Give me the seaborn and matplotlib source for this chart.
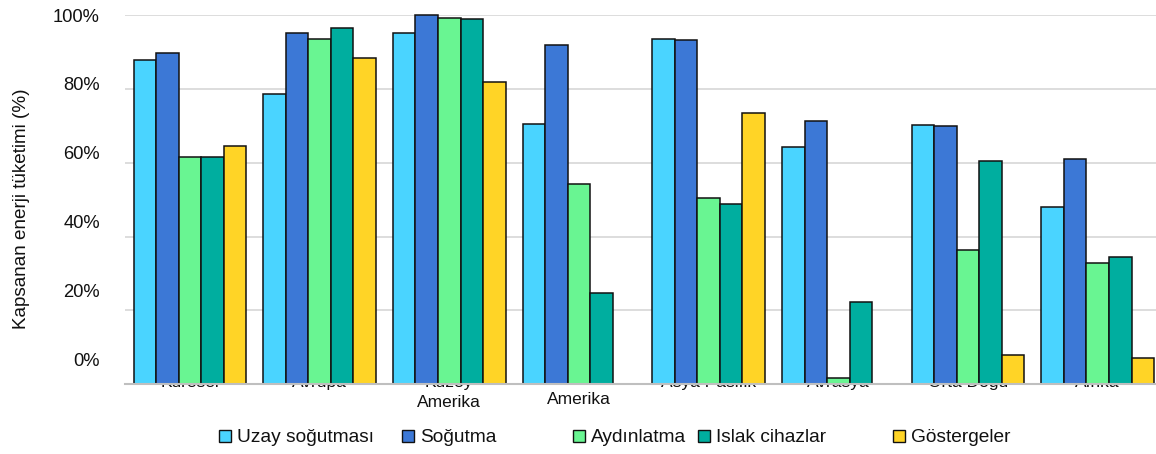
import numpy as np
import pandas as pd
import matplotlib
matplotlib.use("Agg")
import matplotlib.pyplot as plt
from matplotlib.patches import Patch
import seaborn as sns

# Regions (x categories) and their axis labels
regions = ["Küresel", "Avrupa", "Kuzey Amerika", "Latin Amerika",
           "Asya Pasifik", "Avrasya", "Orta Doğu", "Afrika"]
region_labels = ["Küresel", "Avrupa", "Kuzey\nAmerika", "Latin\nAmerika",
                 "Asya Pasifik", "Avrasya", "Orta Doğu", "Afrika"]

# End uses (series)
end_uses = ["Uzay soğutması", "Soğutma", "Aydınlatma", "Islak cihazlar", "Göstergeler"]

# Share of energy consumption covered (%), one list per end use; None = no data
space_cooling = [87.8, 78.7, 95.1, 70.6, 93.6, 64.3, 70.3, 47.9]
refrigeration = [89.7, 95.2, 100.0, 91.9, 93.2, 71.2, 69.9, 60.9]
lighting      = [61.5, 93.4, 99.3, 54.3, 50.4, 1.8, 36.3, 32.9]
wet_appliances = [61.6, 96.4, 98.9, 24.6, 48.9, 22.4, 60.5, 34.5]
displays      = [64.4, 88.4, 81.8, None, 73.5, None, 7.9, 7.2]

y_ticks = [0, 20, 40, 60, 80, 100]
y_tick_labels = ["0%", "20%", "40%", "60%", "80%", "100%"]

colors = ["#4AD4FF", "#3C78D6", "#69F592", "#00AE9F", "#FFD426"]

series = [space_cooling, refrigeration, lighting, wet_appliances, displays]
rows = []
for use, vals in zip(end_uses, series):
    for reg, v in zip(regions, vals):
        rows.append({"Bölge": reg, "Kullanım": use, "Değer": v})
df = pd.DataFrame(rows).dropna()

sns.set_theme(style="white")
plt.rcParams["font.family"] = ["Liberation Sans", "DejaVu Sans"]

fig = plt.figure(figsize=(11.56, 4.54), dpi=100)
ax = fig.add_axes([125 / 1156, (454 - 384.3) / 454, 1037.6 / 1156, 369.3 / 454])

sns.barplot(data=df, x="Bölge", y="Değer", hue="Kullanım",
            order=regions, hue_order=end_uses, palette=colors, saturation=1,
            width=0.868, gap=0, edgecolor="#111111", linewidth=1.1,
            legend=False, errorbar=None, ax=ax, zorder=2)
for p in ax.patches:
    p.set_clip_on(False)

ax.set_ylim(0, 100)
ax.set_xlim(-0.5, len(regions) - 0.5)
ax.set_axisbelow(True)

# Gridlines on the major ticks, labels on slightly shifted minor ticks
ax.yaxis.remove_overlapping_locs = False
ax.set_yticks(y_ticks)
ax.set_yticklabels([""] * len(y_ticks))
ax.yaxis.grid(True, color="#DADADA", linewidth=1.3)
ax.set_yticks([round(100 - 0.934 * (100 - v), 2) for v in y_ticks],
              y_tick_labels, minor=True)
ax.tick_params(axis="y", which="both", length=0, pad=18, labelsize=13.2,
               labelcolor="#111111")
ax.set_xticks([])
ax.set_xlabel("")
ax.set_ylabel("Kapsanan enerji tüketimi (%)", fontsize=13.6, color="#111111")
ax.yaxis.set_label_coords(-95 / 1037.6, 0.475)

for s in ["top", "right", "left"]:
    ax.spines[s].set_visible(False)
ax.spines["bottom"].set_color("#BFBFBF")
ax.spines["bottom"].set_linewidth(1.5)
ax.spines["bottom"].set_zorder(3)

# Region labels start just above the baseline, behind the bars
for i, lab in enumerate(region_labels):
    ax.annotate(lab, xy=(i, 0), xycoords=("data", "axes fraction"),
                xytext=(0, 6.4 if i != 3 else 8.6), textcoords="offset points",
                ha="center", va="top", fontsize=12.5, color="#111111",
                zorder=1, annotation_clip=False, linespacing=1.4)

# Legend entries spread along the bottom
legend_x = [219, 402, 573, 698, 893]
for use, col, x in zip(end_uses, colors, legend_x):
    h = Patch(facecolor=col, edgecolor="#111111", linewidth=1.0)
    fig.legend([h], [use], loc="center left",
               bbox_to_anchor=(x / 1156, 1 - 438 / 454),
               frameon=False, fontsize=13.8, handlelength=0.62,
               handleheight=0.62, handletextpad=0.3, borderpad=0,
               borderaxespad=0, labelcolor="#111111")

fig.savefig("out.png", dpi=100)
